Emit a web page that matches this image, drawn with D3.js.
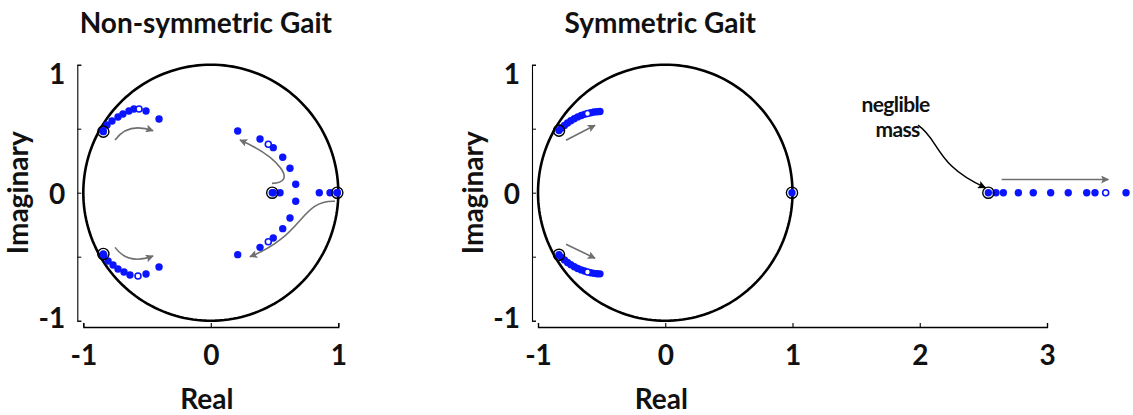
<!DOCTYPE html>
<html>
<head>
<meta charset="utf-8">
<script src="https://cdn.jsdelivr.net/npm/d3@7"></script>
<style>
  body { margin: 0; background: #fff; }
  svg { display: block; }
  text { font-family: Lato, "Open Sans", sans-serif; font-weight: 700; fill: #111; }
</style>
</head>
<body>
<svg id="chart" width="1133" height="415"></svg>
<script>
// ---------------- data ----------------
const panelTitles = ["Non-symmetric Gait", "Symmetric Gait"];
const xTicksLeft = [-1, 0, 1];
const xTicksRight = [-1, 0, 1, 2, 3];
const yTickLabels = [-1, 0, 1];
const yTickMarks = [-1, -0.5, 0, 0.5, 1];
const axisLabelX = "Real";
const axisLabelY = "Imaginary";

// Non-symmetric gait: eigenvalue loci [real, imag]
const nsUpperLeft = [[-0.845, 0.484], [-0.814, 0.529], [-0.775, 0.560], [-0.728, 0.591], [-0.689, 0.615],
  [-0.642, 0.638], [-0.603, 0.654], [-0.508, 0.638], [-0.406, 0.576]];
const nsLowerLeft = [[-0.838, -0.495], [-0.806, -0.534], [-0.767, -0.565], [-0.728, -0.596], [-0.681, -0.620],
  [-0.634, -0.643], [-0.508, -0.635], [-0.406, -0.580]];
const nsRealAxis = [[0.490, 0], [0.543, 0], [0.851, 0], [0.935, 0], [0.992, 0]];
const nsUpperRight = [[0.666, 0.066], [0.621, 0.191], [0.564, 0.277], [0.490, 0.352], [0.386, 0.420], [0.211, 0.482]];
const nsLowerRight = [[0.666, -0.067], [0.621, -0.198], [0.564, -0.281], [0.490, -0.354], [0.386, -0.427], [0.211, -0.484]];
const nsOpen = [[-0.563, 0.654], [-0.571, -0.651], [0.451, 0.378], [0.451, -0.383]];
const nsStart = [[-0.843, 0.477], [-0.843, -0.479], [0.482, 0], [0.992, 0]];

// Symmetric gait: eigenvalue loci [real, imag]
const sUpper = [[-0.835, 0.485], [-0.815, 0.505], [-0.792, 0.525], [-0.768, 0.545], [-0.742, 0.562],
  [-0.715, 0.578], [-0.688, 0.592], [-0.660, 0.603], [-0.635, 0.612], [-0.585, 0.625],
  [-0.560, 0.630], [-0.535, 0.633], [-0.513, 0.634]];
const sLower = [[-0.835, -0.485], [-0.815, -0.505], [-0.792, -0.525], [-0.768, -0.545], [-0.742, -0.562],
  [-0.715, -0.578], [-0.688, -0.592], [-0.660, -0.603], [-0.635, -0.612], [-0.585, -0.625],
  [-0.560, -0.630], [-0.535, -0.633], [-0.513, -0.634]];
const sRealAxis = [[0.996, 0], [2.539, 0], [2.599, 0], [2.657, 0], [2.775, 0], [2.892, 0], [3.029, 0],
  [3.167, 0], [3.312, 0], [3.377, 0], [3.621, 0]];
const sOpen = [[-0.611, 0.619], [-0.611, -0.619], [3.461, 0]];
const sStart = [[-0.835, 0.485], [-0.835, -0.485], [0.996, 0], [2.539, 0]];

// direction-of-motion arrows, in data coordinates
const nsArrows = [
  { type: "q", pts: [[-0.751, 0.412], [-0.649, 0.552], [-0.453, 0.484]] },
  { type: "q", pts: [[-0.751, -0.427], [-0.649, -0.567], [-0.453, -0.495]] },
  { type: "c", pts: [[0.480, 0.073], [0.684, 0.076], [0.543, 0.272], [0.229, 0.412]] },
  { type: "c", pts: [[0.974, -0.067], [0.700, -0.057], [0.739, -0.330], [0.307, -0.500]] }
];
const sArrows = [
  { type: "l", pts: [[-0.780, 0.410], [-0.552, 0.527]] },
  { type: "l", pts: [[-0.780, -0.402], [-0.552, -0.512]] },
  { type: "l", pts: [[2.644, 0.103], [3.482, 0.103]] }
];
const noteLines = ["neglible", "mass"];
const noteArrow = { type: "c", pts: [[1.986, 0.527], [2.159, 0.410], [2.120, 0.215], [2.515, 0.040]] };

// ---------------- drawing ----------------
const svg = d3.select("#chart");
const BLUE = "#0a14ff";
const GRAY = "#6f6f6f";

const defs = svg.append("defs");
function addHead(id, color) {
  defs.append("marker")
    .attr("id", id)
    .attr("viewBox", "0 0 10 10")
    .attr("refX", 9).attr("refY", 5)
    .attr("markerWidth", 10).attr("markerHeight", 8)
    .attr("markerUnits", "userSpaceOnUse")
    .attr("orient", "auto")
    .append("path").attr("d", "M0,0 L10,5 L0,10 L2,5 Z").attr("fill", color);
}
addHead("headGray", GRAY);
addHead("headBlack", "#000");

function arrowPath(a, x, y) {
  const p = a.pts.map(d => [x(d[0]), y(d[1])]);
  const path = d3.path();
  path.moveTo(p[0][0], p[0][1]);
  if (a.type === "l") path.lineTo(p[1][0], p[1][1]);
  else if (a.type === "q") path.quadraticCurveTo(p[1][0], p[1][1], p[2][0], p[2][1]);
  else path.bezierCurveTo(p[1][0], p[1][1], p[2][0], p[2][1], p[3][0], p[3][1]);
  return path.toString();
}

function drawPanel(cfg) {
  const g = svg.append("g");
  const x = d3.scaleLinear().domain(cfg.xDomain).range(cfg.xRange);
  const y = d3.scaleLinear().domain([-1, 1]).range([320.7, 64.7]);
  const xAxisY = y(-1) + 6.3;
  const yAxisX = x(-1) - 6;

  // unit circle
  const circ = d3.range(0, 361, 2).map(a => [Math.cos(a * Math.PI / 180), Math.sin(a * Math.PI / 180)]);
  g.append("path")
    .attr("d", d3.line().x(d => x(d[0])).y(d => y(d[1]))(circ))
    .attr("fill", "none").attr("stroke", "#000").attr("stroke-width", 2.6);

  // x axis
  const xAxis = g.append("g").attr("transform", `translate(0,${xAxisY})`)
    .call(d3.axisBottom(x).tickValues(cfg.xTicks).tickFormat(d => d3.format("d")(d).replace("−", "-"))
      .tickSize(-4).tickSizeOuter(-4).tickPadding(18));
  xAxis.select(".domain").attr("stroke-width", 1.3);
  xAxis.selectAll(".tick line").attr("stroke-width", 1.1);
  xAxis.selectAll(".tick text").attr("font-size", 28).attr("font-family", null).style("fill", "#111");

  // y axis (small ticks, labels placed separately)
  const yAxis = g.append("g").attr("transform", `translate(${yAxisX},0)`)
    .call(d3.axisLeft(y).tickValues(yTickMarks).tickFormat("").tickSize(-4).tickSizeOuter(-4));
  yAxis.select(".domain").attr("stroke-width", 1.1);
  yAxis.selectAll(".tick line").attr("stroke-width", 1.0);
  const yNudge = v => (v > 0 ? 8 : v < 0 ? -4 : 0);
  g.selectAll(".ylab").data(yTickLabels).join("text")
    .attr("x", yAxisX - 12).attr("y", d => y(d) + yNudge(d))
    .attr("text-anchor", "end").attr("dominant-baseline", "central")
    .attr("font-size", 28).text(d => String(d));

  // axis titles
  g.append("text").attr("x", (x(-1) + x(1)) / 2 - 4).attr("y", 409)
    .attr("text-anchor", "middle").attr("font-size", 28).text(axisLabelX);
  g.append("text").attr("transform", `translate(${yAxisX - 49},${y(0)}) rotate(-90)`)
    .attr("text-anchor", "middle").attr("font-size", 28).text(axisLabelY);

  // panel title
  g.append("text").attr("x", (x(-1) + x(1)) / 2 - 5).attr("y", 33)
    .attr("text-anchor", "middle").attr("font-size", 28).text(cfg.title);

  // arrows
  g.selectAll(".arr").data(cfg.arrows).join("path")
    .attr("d", d => arrowPath(d, x, y))
    .attr("fill", "none").attr("stroke", GRAY).attr("stroke-width", 1.6)
    .attr("marker-end", "url(#headGray)");

  // eigenvalue dots
  g.selectAll(".pt").data(cfg.filled).join("circle")
    .attr("cx", d => x(d[0])).attr("cy", d => y(d[1])).attr("r", 3.7).attr("fill", BLUE);
  g.selectAll(".open").data(cfg.open).join("circle")
    .attr("cx", d => x(d[0])).attr("cy", d => y(d[1])).attr("r", 3.0)
    .attr("fill", "#fff").attr("stroke", BLUE).attr("stroke-width", 1.6);
  g.selectAll(".start").data(cfg.start).join("circle")
    .attr("cx", d => x(d[0])).attr("cy", d => y(d[1])).attr("r", 5.6)
    .attr("fill", "none").attr("stroke", "#000").attr("stroke-width", 1.4);

  return { g, x, y };
}

drawPanel({
  title: panelTitles[0],
  xDomain: [-1, 1], xRange: [83.3, 338.3], xTicks: xTicksLeft,
  filled: [...nsUpperLeft, ...nsLowerLeft, ...nsRealAxis, ...nsUpperRight, ...nsLowerRight, ...nsStart],
  open: nsOpen, start: nsStart, arrows: nsArrows
});

const right = drawPanel({
  title: panelTitles[1],
  xDomain: [-1, 3], xRange: [538, 1047], xTicks: xTicksRight,
  filled: [...sUpper, ...sLower, ...sRealAxis],
  open: sOpen, start: sStart, arrows: sArrows
});

// annotation for the pole that runs off along the real axis
right.g.append("path")
  .attr("d", arrowPath(noteArrow, right.x, right.y))
  .attr("fill", "none").attr("stroke", "#000").attr("stroke-width", 1.5)
  .attr("marker-end", "url(#headBlack)");
const note = right.g.append("text")
  .attr("text-anchor", "middle").attr("font-size", 21).attr("letter-spacing", -0.6);
note.selectAll("tspan").data(noteLines).join("tspan")
  .attr("x", (d, i) => right.x(1.81) + (i ? 2 : 0))
  .attr("y", (d, i) => 112 + i * 25)
  .text(d => d);
</script>
</body>
</html>
